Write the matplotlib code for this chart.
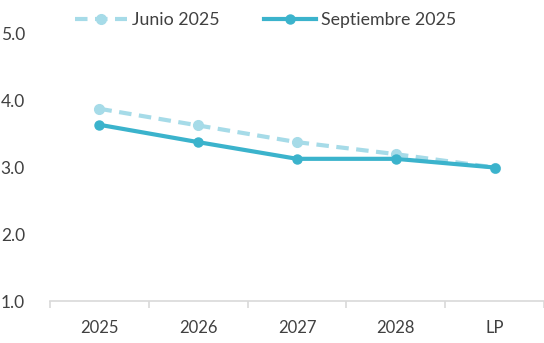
import matplotlib
matplotlib.use("Agg")
import matplotlib.pyplot as plt

# categories and series
categories = ["2025", "2026", "2027", "2028", "LP"]
junio_2025 = [3.88, 3.63, 3.38, 3.20, 3.00]
septiembre_2025 = [3.64, 3.38, 3.13, 3.13, 3.00]
yticks = [1.0, 2.0, 3.0, 4.0, 5.0]

plt.rcParams['font.family'] = ['Lato', 'DejaVu Sans']
text_color = '#404040'
light = '#A6DBE8'
dark = '#3BB3CC'

fig = plt.figure(figsize=(5.44, 3.43), dpi=100)
ax = fig.add_axes([50/544, (343-301)/343, 494/544, (301-34)/343])

x = list(range(len(categories)))
ax.plot(x, junio_2025, color=light, linewidth=3, linestyle=(0, (3, 1.8)),
        marker='o', markersize=7, label='Junio 2025')
ax.plot(x, septiembre_2025, color=dark, linewidth=3,
        marker='o', markersize=6.5, label='Septiembre 2025')

ax.set_xlim(-0.5, len(categories) - 0.5)
ax.set_ylim(1.0, 5.0)
ax.set_xticks(x)
ax.set_xticklabels(categories)
ax.set_xticks([i - 0.5 for i in range(len(categories) + 1)], minor=True)
ax.set_yticks(yticks)
ax.set_yticklabels(["%.1f" % v for v in yticks])

for s in ['top', 'right', 'left']:
    ax.spines[s].set_visible(False)
ax.spines['bottom'].set_color('#D9D9D9')
ax.spines['bottom'].set_linewidth(1.2)
ax.tick_params(axis='x', which='major', length=0, pad=14, labelsize=12, colors=text_color)
ax.tick_params(axis='x', which='minor', length=5, color='#D9D9D9', width=1.2)
ax.tick_params(axis='y', length=0, pad=18, labelsize=12.5, colors=text_color)

leg = fig.legend(loc='center', bbox_to_anchor=(266/544, 1 - 20/343), ncol=2,
                 frameon=False, fontsize=12.8, handlelength=2.9,
                 handletextpad=0.3, columnspacing=2.5)
for t in leg.get_texts():
    t.set_color(text_color)

fig.savefig("out.png", dpi=100)
